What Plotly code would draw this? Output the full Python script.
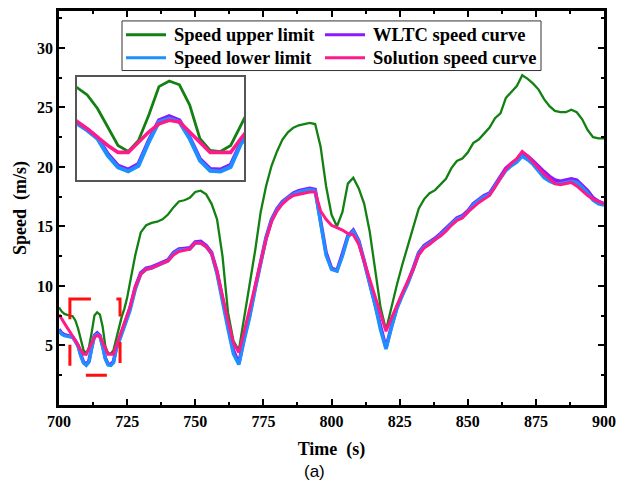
import plotly.graph_objects as go

# ---------------- data ----------------
time_fine = list(range(700, 726))           # 1 s resolution
time_coarse = list(range(726, 901, 2))      # 2 s resolution
time_s = time_fine + time_coarse

upper_fine = [8.2, 7.85, 7.65, 7.55, 7.5, 7.46, 7.1, 6.43, 5.52, 4.61, 4.31, 4.85, 6.1,
              7.51, 7.79, 7.6, 6.6, 4.94, 4.36, 4.31, 4.61, 5.6, 6.6, 7.4, 8.1, 9.0]
upper_coarse = [10.2, 12.6, 14.5, 15.1, 15.3, 15.4, 15.6, 16.0, 16.6, 17.1,
                17.2, 17.4, 17.9, 18.0, 17.7, 16.9, 15.6, 12.5, 7.8, 5.4,
                4.6, 7.3, 10.1, 13.0, 16.2, 18.4, 20.1, 21.3, 22.3, 22.9,
                23.3, 23.5, 23.6, 23.7, 23.6, 21.7, 18.4, 16.0, 15.0, 16.2,
                18.6, 19.1, 18.2, 16.9, 14.6, 11.5, 8.2, 6.3, 8.3, 10.1,
                11.8, 13.3, 14.8, 16.5, 17.3, 17.8, 18.05, 18.5, 19.0, 19.9,
                20.5, 20.7, 21.2, 22.0, 22.3, 22.8, 23.3, 24.1, 24.5, 25.8,
                26.3, 26.8, 27.7, 27.4, 27.0, 26.5, 25.7, 25.1, 24.7, 24.6,
                24.6, 24.8, 24.6, 24.0, 23.1, 22.5, 22.4, 22.4]

wltc_fine = [6.35, 6.05, 5.9, 5.85, 5.8, 5.72, 5.4, 5.0, 4.2, 3.62, 3.42, 3.7, 4.85,
             5.85, 6.05, 5.85, 5.0, 3.95, 3.45, 3.42, 3.65, 4.75, 5.4, 6.1, 6.8, 7.4]
wltc_coarse = [8.1, 9.9, 11.1, 11.5, 11.6, 11.8, 12.0, 12.2, 12.8, 13.1,
               13.15, 13.2, 13.7, 13.75, 13.4, 12.8, 11.2, 8.8, 6.7, 4.6,
               3.5, 5.7, 7.6, 9.9, 12.1, 14.1, 15.6, 16.5, 17.1, 17.5,
               17.8, 18.0, 18.1, 18.2, 18.1, 15.5, 12.8, 11.5, 11.3, 12.7,
               14.2, 14.7, 13.8, 12.1, 10.3, 8.5, 6.4, 4.8, 6.6, 8.2,
               9.3, 10.3, 11.5, 12.8, 13.4, 13.7, 14.0, 14.4, 14.8, 15.3,
               15.7, 15.9, 16.3, 16.9, 17.3, 17.6, 17.8, 18.5, 19.2, 19.9,
               20.3, 20.6, 21.2, 20.9, 20.5, 20.0, 19.6, 19.2, 18.9, 18.8,
               18.9, 19.0, 18.9, 18.5, 18.0, 17.4, 17.1, 16.9]

lower_fine = [6.25, 5.95, 5.82, 5.78, 5.74, 5.68, 5.35, 4.94, 4.11, 3.53, 3.33, 3.61, 4.77,
              5.77, 5.93, 5.77, 4.94, 3.86, 3.36, 3.33, 3.55, 4.69, 5.3, 6.0, 6.7, 7.3]
lower_coarse = [7.9, 9.7, 11.0, 11.4, 11.5, 11.7, 11.9, 12.1, 12.7, 13.0,
                13.05, 13.1, 13.6, 13.6, 13.3, 12.7, 11.0, 8.6, 6.4, 4.3,
                3.4, 5.5, 7.4, 9.7, 12.0, 14.0, 15.5, 16.4, 17.0, 17.4,
                17.7, 17.9, 18.0, 18.1, 18.0, 15.3, 12.6, 11.4, 11.25, 12.5,
                14.1, 14.6, 13.7, 12.0, 10.2, 8.4, 6.3, 4.7, 6.5, 8.1,
                9.2, 10.2, 11.4, 12.7, 13.3, 13.6, 13.9, 14.3, 14.7, 15.2,
                15.6, 15.8, 16.2, 16.8, 17.2, 17.5, 17.7, 18.4, 19.1, 19.7,
                20.1, 20.4, 20.9, 20.6, 20.2, 19.7, 19.1, 18.8, 18.6, 18.6,
                18.7, 18.8, 18.7, 18.3, 17.8, 17.2, 16.9, 16.8]

solution_fine = [7.6, 7.2, 6.85, 6.5, 6.15, 5.8, 5.43, 5.02, 4.61, 4.27, 4.27, 4.77, 5.27,
                 5.68, 5.85, 5.77, 5.27, 4.77, 4.27, 4.27, 4.27, 4.95, 5.6, 6.3, 6.9, 7.5]
solution_coarse = [8.2, 9.9, 11.0, 11.4, 11.5, 11.7, 11.9, 12.1, 12.6, 12.9,
                   13.0, 13.1, 13.6, 13.6, 13.3, 12.7, 11.2, 9.0, 7.1, 5.2,
                   4.4, 6.2, 8.0, 10.0, 12.0, 13.9, 15.4, 16.3, 16.9, 17.3,
                   17.6, 17.7, 17.8, 17.9, 17.9, 16.3, 15.6, 15.1, 14.9, 14.7,
                   14.4, 14.3, 13.5, 12.0, 10.5, 9.0, 7.5, 6.2, 7.3, 8.4,
                   9.4, 10.4, 11.4, 12.6, 13.2, 13.5, 13.9, 14.2, 14.6, 15.1,
                   15.5, 15.7, 16.2, 16.6, 17.0, 17.3, 17.6, 18.3, 19.0, 19.8,
                   20.3, 20.7, 21.3, 20.9, 20.4, 19.9, 19.4, 19.0, 18.6, 18.5,
                   18.6, 18.7, 18.4, 18.0, 17.6, 17.3, 17.1, 16.9]

upper = upper_fine + upper_coarse
wltc = wltc_fine + wltc_coarse
lower = lower_fine + lower_coarse
solution = solution_fine + solution_coarse

x_ticks = [700, 725, 750, 775, 800, 825, 850, 875, 900]
y_ticks = [5, 10, 15, 20, 25, 30]

zoom_t = [704, 722.4]     # red dashed window (time)
zoom_v = [2.5, 8.9]       # red dashed window (speed)
inset_t = [705, 721.3]
inset_v = [2.92, 7.96]

# ---------------- style ----------------
W, H = 632, 483
ML, MR, MT, MB = 59, 28, 8, 78
PW, PH = W - ML - MR, H - MT - MB


def px_x(px):
    return (px - ML) / PW


def px_y(py):
    return 1 - (py - MT) / PH


SERIF = "Times New Roman, Liberation Serif, serif"
series = [
    ("Speed upper limit", upper, "#128012", 2.3, 2.8),
    ("WLTC speed curve", wltc, "#8c1aff", 3.6, 4.0),
    ("Speed lower limit", lower, "#1e8fff", 3.4, 4.0),
    ("Solution speed curve", solution, "#ff1a8c", 3.0, 3.6),
]

fig = go.Figure()
for name, vals, col, w, w_in in series:
    fig.add_trace(go.Scatter(x=time_s, y=vals, mode="lines", name=name, showlegend=False,
                             line=dict(color=col, width=w), xaxis="x", yaxis="y"))
for name, vals, col, w, w_in in series:
    xs = [t for t in time_s if inset_t[0] - 1 <= t <= inset_t[1] + 1]
    ys = [v for t, v in zip(time_s, vals) if inset_t[0] - 1 <= t <= inset_t[1] + 1]
    fig.add_trace(go.Scatter(x=xs, y=ys, mode="lines", showlegend=False, name=name,
                             line=dict(color=col, width=w_in),
                             xaxis="x2", yaxis="y2", cliponaxis=True))

tickfont = dict(family=SERIF, size=16, color="black", weight="bold")
axis_common = dict(showline=True, linecolor="black", linewidth=2.5, mirror="allticks",
                   ticks="inside", ticklen=6, tickwidth=2, tickcolor="black",
                   showgrid=False, zeroline=False, tickfont=tickfont)

fig.update_layout(
    width=W, height=H,
    margin=dict(l=ML, r=MR, t=MT, b=MB),
    paper_bgcolor="white", plot_bgcolor="white",
    showlegend=False,
    xaxis=dict(range=[700, 900], tickvals=x_ticks, domain=[0, 1],
               minor=dict(dtick=12.5, tick0=700, ticks="inside", ticklen=3, tickwidth=2,
                          tickcolor="black"),
               title=dict(text="Time\u00a0\u00a0(s)", standoff=14,
                          font=dict(family=SERIF, size=18, color="black", weight="bold")),
               **axis_common),
    yaxis=dict(range=[0, 33.1], tickvals=y_ticks, domain=[0, 1],
               minor=dict(dtick=2.5, tick0=0, ticks="inside", ticklen=3, tickwidth=2,
                          tickcolor="black"),
               title=dict(text="Speed\u00a0\u00a0(m/s)", standoff=6,
                          font=dict(family=SERIF, size=18, color="black", weight="bold")),
               **axis_common),
    xaxis2=dict(domain=[px_x(77), px_x(244)], anchor="y2", range=inset_t,
                showticklabels=False, ticks="", showgrid=False, zeroline=False,
                showline=True, mirror=True, linecolor="#555555", linewidth=2),
    yaxis2=dict(domain=[px_y(178), px_y(75)], anchor="x2", range=inset_v,
                showticklabels=False, ticks="", showgrid=False, zeroline=False,
                showline=True, mirror=True, linecolor="#555555", linewidth=2),
)

# ---- legend (two columns, framed) ----
fig.add_shape(type="rect", xref="paper", yref="paper",
              x0=px_x(122), x1=px_x(541), y0=px_y(68), y1=px_y(18),
              line=dict(color="#333333", width=1), fillcolor="white", layer="above")
legend_slots = [(126, 32), (325, 32), (126, 55), (325, 55)]   # upper, WLTC, lower, solution
for (name, vals, col, w, w_in), (lx, ly) in zip(series, legend_slots):
    fig.add_shape(type="line", xref="paper", yref="paper",
                  x0=px_x(lx), x1=px_x(lx + 40), y0=px_y(ly), y1=px_y(ly),
                  line=dict(color=col, width=3), layer="above")
    fig.add_annotation(text=name, xref="paper", yref="paper", x=px_x(lx + 46), y=px_y(ly),
                       xanchor="left", yanchor="middle", showarrow=False,
                       font=dict(family=SERIF, size=18.5, color="black", weight="bold"))

# red dashed window marking the zoomed region
fig.add_shape(type="path", xref="x", yref="y",
              path=f"M {zoom_t[0]},{zoom_v[1]} L {zoom_t[1]},{zoom_v[1]} "
                   f"L {zoom_t[1]},{zoom_v[0]} L {zoom_t[0]},{zoom_v[0]} Z",
              line=dict(color="#ff1010", width=3, dash="21px,25.5px"))

fig.add_annotation(text="(a)", xref="paper", yref="paper", x=px_x(314), y=px_y(472),
                   showarrow=False, xanchor="center", yanchor="middle",
                   font=dict(family="Arial, Liberation Sans, sans-serif", size=17, color="black"))

fig.write_html("out.html", config={"displayModeBar": False},
               post_script="document.body.style.margin='0';")
